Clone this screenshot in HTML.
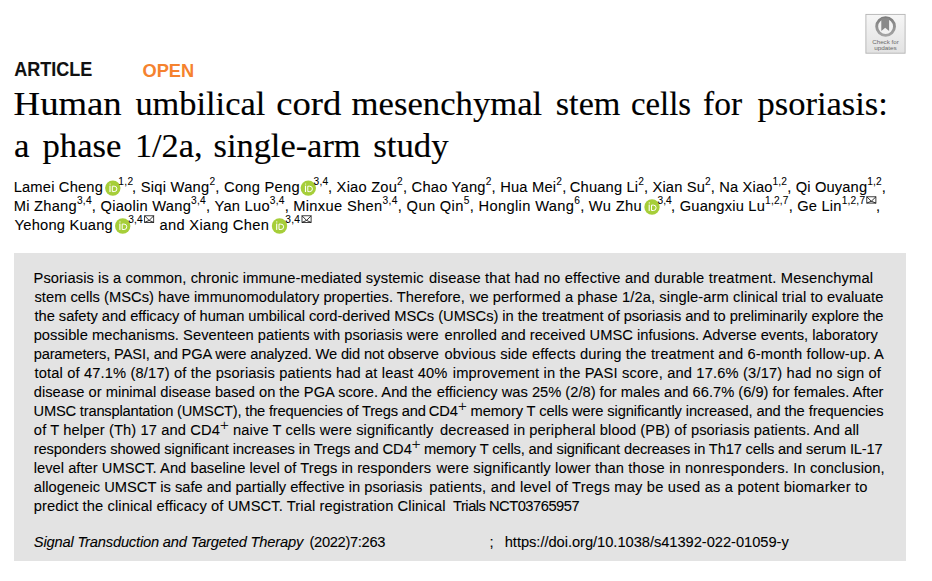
<!DOCTYPE html>
<html><head><meta charset="utf-8"><title>Human umbilical cord mesenchymal stem cells for psoriasis</title>
<style>
html,body{margin:0;padding:0;background:#fff;width:932px;height:581px;overflow:hidden}
svg{display:block}
</style></head><body>
<svg width="932" height="581" viewBox="0 0 932 581" font-family="Liberation Sans, sans-serif" fill="#000">
<rect x="14" y="253" width="892" height="308" fill="#e3e3e3"/>
<g>
<defs><linearGradient id="cg" x1="0" y1="0" x2="0" y2="1"><stop offset="0" stop-color="#f6f6f6"/><stop offset="1" stop-color="#e2e2e2"/></linearGradient><linearGradient id="rg" x1="0" y1="0" x2="0" y2="1"><stop offset="0" stop-color="#7e7e7e"/><stop offset="1" stop-color="#a4a4a4"/></linearGradient></defs>
<rect x="865.9" y="14.4" width="39.2" height="38.8" fill="url(#cg)" stroke="#b4b4b4" stroke-width="0.9"/>
<circle cx="885.6" cy="26.5" r="8.9" fill="#f2f2f2" stroke="url(#rg)" stroke-width="2.9"/>
<path d="M881.3 18.2h7.8v12.8l-3.9-3.3l-3.9 3.3z" fill="#8a8a8a"/>
<text x="872.2" y="44.0" font-size="6.2" textLength="26.6" lengthAdjust="spacingAndGlyphs" fill="#6a6a6a">Check for</text>
<text x="874.2" y="49.8" font-size="6.2" textLength="22.6" lengthAdjust="spacingAndGlyphs" fill="#6a6a6a">updates</text>
</g>
<g><circle cx="112.80" cy="188.10" r="7.70" fill="#a6ce39"/><rect x="109.45" y="185.70" width="1.1" height="6.3" fill="#fff"/><circle cx="110.08" cy="184.00" r="0.62" fill="#fff"/><path d="M112.30 186.20h1.9a2.7 2.7 0 0 1 0 5.4h-1.9z" fill="none" stroke="#fff" stroke-width="1.0"/></g>
<g><circle cx="308.30" cy="188.10" r="7.70" fill="#a6ce39"/><rect x="304.95" y="185.70" width="1.1" height="6.3" fill="#fff"/><circle cx="305.58" cy="184.00" r="0.62" fill="#fff"/><path d="M307.80 186.20h1.9a2.7 2.7 0 0 1 0 5.4h-1.9z" fill="none" stroke="#fff" stroke-width="1.0"/></g>
<g><circle cx="652.00" cy="207.00" r="7.70" fill="#a6ce39"/><rect x="648.65" y="204.60" width="1.1" height="6.3" fill="#fff"/><circle cx="649.28" cy="202.90" r="0.62" fill="#fff"/><path d="M651.50 205.10h1.9a2.7 2.7 0 0 1 0 5.4h-1.9z" fill="none" stroke="#fff" stroke-width="1.0"/></g>
<g fill="none" stroke="#111" stroke-width="0.8"><rect x="866.80" y="196.80" width="9.10" height="6.30"/><path d="M866.80 196.80L871.35 201.23L875.90 196.80M866.80 203.10L871.35 201.23L875.90 203.10" stroke-width="0.85"/></g>
<g><circle cx="122.70" cy="226.00" r="7.70" fill="#a6ce39"/><rect x="119.35" y="223.60" width="1.1" height="6.3" fill="#fff"/><circle cx="119.98" cy="221.90" r="0.62" fill="#fff"/><path d="M122.20 224.10h1.9a2.7 2.7 0 0 1 0 5.4h-1.9z" fill="none" stroke="#fff" stroke-width="1.0"/></g>
<g fill="none" stroke="#111" stroke-width="0.8"><rect x="144.60" y="215.80" width="9.10" height="6.60"/><path d="M144.60 215.80L149.15 220.43L153.70 215.80M144.60 222.40L149.15 220.43L153.70 222.40" stroke-width="0.85"/></g>
<g><circle cx="279.50" cy="226.00" r="7.70" fill="#a6ce39"/><rect x="276.15" y="223.60" width="1.1" height="6.3" fill="#fff"/><circle cx="276.78" cy="221.90" r="0.62" fill="#fff"/><path d="M279.00 224.10h1.9a2.7 2.7 0 0 1 0 5.4h-1.9z" fill="none" stroke="#fff" stroke-width="1.0"/></g>
<g fill="none" stroke="#111" stroke-width="0.8"><rect x="302.00" y="215.80" width="9.10" height="6.60"/><path d="M302.00 215.80L306.55 220.43L311.10 215.80M302.00 222.40L306.55 220.43L311.10 222.40" stroke-width="0.85"/></g>
<text x="14.30" y="75.90" font-size="19.8" textLength="78.04" lengthAdjust="spacingAndGlyphs" stroke="#111" stroke-width="0.1" font-weight="bold" fill="#111">ARTICLE</text>
<text x="142.44" y="77.30" font-size="19.0" textLength="51.76" lengthAdjust="spacingAndGlyphs" font-weight="bold" fill="#f5822e">OPEN</text>
<text x="13.62" y="115.30" font-size="33.6" textLength="108.13" lengthAdjust="spacingAndGlyphs" stroke="#000" stroke-width="0.15" font-family="Liberation Serif" fill="#000">Human</text>
<text x="135.41" y="115.30" font-size="33.6" textLength="129.78" lengthAdjust="spacingAndGlyphs" stroke="#000" stroke-width="0.15" font-family="Liberation Serif" fill="#000">umbilical</text>
<text x="276.32" y="115.30" font-size="33.6" textLength="64.95" lengthAdjust="spacingAndGlyphs" stroke="#000" stroke-width="0.15" font-family="Liberation Serif" fill="#000">cord</text>
<text x="351.64" y="115.30" font-size="33.6" textLength="190.64" lengthAdjust="spacingAndGlyphs" stroke="#000" stroke-width="0.15" font-family="Liberation Serif" fill="#000">mesenchymal</text>
<text x="555.82" y="115.30" font-size="33.6" textLength="64.61" lengthAdjust="spacingAndGlyphs" stroke="#000" stroke-width="0.15" font-family="Liberation Serif" fill="#000">stem</text>
<text x="630.94" y="115.30" font-size="33.6" textLength="60.11" lengthAdjust="spacingAndGlyphs" stroke="#000" stroke-width="0.15" font-family="Liberation Serif" fill="#000">cells</text>
<text x="703.07" y="115.30" font-size="33.6" textLength="39.01" lengthAdjust="spacingAndGlyphs" stroke="#000" stroke-width="0.15" font-family="Liberation Serif" fill="#000">for</text>
<text x="757.60" y="115.30" font-size="33.6" textLength="130.29" lengthAdjust="spacingAndGlyphs" stroke="#000" stroke-width="0.15" font-family="Liberation Serif" fill="#000">psoriasis:</text>
<text x="13.94" y="156.60" font-size="33.6" textLength="15.48" lengthAdjust="spacingAndGlyphs" stroke="#000" stroke-width="0.15" font-family="Liberation Serif" fill="#000">a</text>
<text x="42.50" y="156.60" font-size="33.6" textLength="78.92" lengthAdjust="spacingAndGlyphs" stroke="#000" stroke-width="0.15" font-family="Liberation Serif" fill="#000">phase</text>
<text x="134.92" y="156.60" font-size="33.6" textLength="67.67" lengthAdjust="spacingAndGlyphs" stroke="#000" stroke-width="0.15" font-family="Liberation Serif" fill="#000">1/2a,</text>
<text x="213.52" y="156.60" font-size="33.6" textLength="147.07" lengthAdjust="spacingAndGlyphs" stroke="#000" stroke-width="0.15" font-family="Liberation Serif" fill="#000">single-arm</text>
<text x="373.31" y="156.60" font-size="33.6" textLength="75.34" lengthAdjust="spacingAndGlyphs" stroke="#000" stroke-width="0.15" font-family="Liberation Serif" fill="#000">study</text>
<text x="13.65" y="191.80" font-size="14.7" textLength="89.24" lengthAdjust="spacing" stroke="#000" stroke-width="0.08">Lamei Cheng</text>
<text x="118.28" y="185.00" font-size="10.2" textLength="14.91" lengthAdjust="spacing" stroke="#000" stroke-width="0.08">1,2</text>
<text x="132.02" y="191.80" font-size="14.7" textLength="167.58" lengthAdjust="spacing" stroke="#000" stroke-width="0.08">, Siqi Wang<tspan font-size="10.2" dy="-6.8">2</tspan><tspan dy="6.8">, Cong Peng</tspan></text>
<text x="313.60" y="185.00" font-size="10.2" textLength="14.53" lengthAdjust="spacing" stroke="#000" stroke-width="0.08">3,4</text>
<text x="328.02" y="191.80" font-size="14.7" textLength="238.27" lengthAdjust="spacing" stroke="#000" stroke-width="0.08">, Xiao Zou<tspan font-size="10.2" dy="-6.8">2</tspan><tspan dy="6.8">, Chao Yang</tspan><tspan font-size="10.2" dy="-6.8">2</tspan><tspan dy="6.8">, Hua Mei</tspan><tspan font-size="10.2" dy="-6.8">2</tspan><tspan dy="6.8">,</tspan></text>
<text x="569.85" y="191.80" font-size="14.7" textLength="316.09" lengthAdjust="spacing" stroke="#000" stroke-width="0.08">Chuang Li<tspan font-size="10.2" dy="-6.8">2</tspan><tspan dy="6.8">, Xian Su</tspan><tspan font-size="10.2" dy="-6.8">2</tspan><tspan dy="6.8">, Na Xiao</tspan><tspan font-size="10.2" dy="-6.8">1,2</tspan><tspan dy="6.8">, Qi Ouyang</tspan><tspan font-size="10.2" dy="-6.8">1,2</tspan><tspan dy="6.8">,</tspan></text>
<text x="13.65" y="210.90" font-size="14.7" textLength="275.18" lengthAdjust="spacing" stroke="#000" stroke-width="0.08">Mi Zhang<tspan font-size="10.2" dy="-6.8">3,4</tspan><tspan dy="6.8">, Qiaolin Wang</tspan><tspan font-size="10.2" dy="-6.8">3,4</tspan><tspan dy="6.8">, Yan Luo</tspan><tspan font-size="10.2" dy="-6.8">3,4</tspan><tspan dy="6.8">,</tspan></text>
<text x="293.15" y="210.90" font-size="14.7" textLength="291.25" lengthAdjust="spacing" stroke="#000" stroke-width="0.08">Minxue Shen<tspan font-size="10.2" dy="-6.8">3,4</tspan><tspan dy="6.8">, Qun Qin</tspan><tspan font-size="10.2" dy="-6.8">5</tspan><tspan dy="6.8">, Honglin Wang</tspan><tspan font-size="10.2" dy="-6.8">6</tspan><tspan dy="6.8">,</tspan></text>
<text x="588.84" y="210.90" font-size="14.7" textLength="52.88" lengthAdjust="spacing" stroke="#000" stroke-width="0.08">Wu Zhu</text>
<text x="657.50" y="204.10" font-size="10.2" textLength="14.29" lengthAdjust="spacing" stroke="#000" stroke-width="0.08">3,4</text>
<text x="671.12" y="210.90" font-size="14.7" textLength="193.95" lengthAdjust="spacing" stroke="#000" stroke-width="0.08">, Guangxiu Lu<tspan font-size="10.2" dy="-6.8">1,2,7</tspan><tspan dy="6.8">, Ge Lin</tspan><tspan font-size="10.2" dy="-6.8">1,2,7</tspan><tspan dy="6.8"></tspan></text>
<text x="876.02" y="210.90" font-size="14.7" textLength="5.73" lengthAdjust="spacing" stroke="#000" stroke-width="0.08">,</text>
<text x="14.60" y="229.80" font-size="14.7" textLength="98.17" lengthAdjust="spacing" stroke="#000" stroke-width="0.08">Yehong Kuang</text>
<text x="128.30" y="223.00" font-size="10.2" textLength="14.29" lengthAdjust="spacing" stroke="#000" stroke-width="0.08">3,4</text>
<text x="159.55" y="229.80" font-size="14.7" textLength="109.27" lengthAdjust="spacing" stroke="#000" stroke-width="0.08">and Xiang Chen</text>
<text x="285.30" y="223.00" font-size="10.2" textLength="14.53" lengthAdjust="spacing" stroke="#000" stroke-width="0.08">3,4</text>
<text x="33.55" y="283.20" font-size="14.7" textLength="390.06" lengthAdjust="spacing" stroke="#000" stroke-width="0.08">Psoriasis is a common, chronic immune-mediated systemic</text>
<text x="428.97" y="283.20" font-size="14.7" textLength="444.17" lengthAdjust="spacing" stroke="#000" stroke-width="0.08">disease that had no effective and durable treatment. Mesenchymal</text>
<text x="34.50" y="302.17" font-size="14.7" textLength="430.31" lengthAdjust="spacing" stroke="#000" stroke-width="0.08">stem cells (MSCs) have immunomodulatory properties. Therefore,</text>
<text x="469.69" y="302.17" font-size="14.7" textLength="413.62" lengthAdjust="spacing" stroke="#000" stroke-width="0.08">we performed a phase 1/2a, single-arm clinical trial to evaluate</text>
<text x="34.54" y="321.14" font-size="14.7" textLength="399.50" lengthAdjust="spacing" stroke="#000" stroke-width="0.08">the safety and efficacy of human umbilical cord-derived MSCs</text>
<text x="438.27" y="321.14" font-size="14.7" textLength="445.27" lengthAdjust="spacing" stroke="#000" stroke-width="0.08">(UMSCs) in the treatment of psoriasis and to preliminarily explore the</text>
<text x="33.64" y="340.11" font-size="14.7" textLength="405.02" lengthAdjust="spacing" stroke="#000" stroke-width="0.08">possible mechanisms. Seventeen patients with psoriasis were</text>
<text x="444.47" y="340.11" font-size="14.7" textLength="433.38" lengthAdjust="spacing" stroke="#000" stroke-width="0.08">enrolled and received UMSC infusions. Adverse events, laboratory</text>
<text x="33.64" y="359.08" font-size="14.7" textLength="405.31" lengthAdjust="spacing" stroke="#000" stroke-width="0.08">parameters, PASI, and PGA were analyzed. We did not observe</text>
<text x="444.47" y="359.08" font-size="14.7" textLength="439.41" lengthAdjust="spacing" stroke="#000" stroke-width="0.08">obvious side effects during the treatment and 6-month follow-up. A</text>
<text x="34.54" y="378.05" font-size="14.7" textLength="412.85" lengthAdjust="spacing" stroke="#000" stroke-width="0.08">total of 47.1% (8/17) of the psoriasis patients had at least 40%</text>
<text x="452.73" y="378.05" font-size="14.7" textLength="428.21" lengthAdjust="spacing" stroke="#000" stroke-width="0.08">improvement in the PASI score, and 17.6% (3/17) had no sign of</text>
<text x="33.87" y="397.02" font-size="14.7" textLength="398.09" lengthAdjust="spacing" stroke="#000" stroke-width="0.08">disease or minimal disease based on the PGA score. And the</text>
<text x="436.77" y="397.02" font-size="14.7" textLength="446.72" lengthAdjust="spacing" stroke="#000" stroke-width="0.08">efficiency was 25% (2/8) for males and 66.7% (6/9) for females. After</text>
<text x="33.57" y="415.99" font-size="14.7" textLength="392.28" lengthAdjust="spacing" stroke="#000" stroke-width="0.08">UMSC transplantation (UMSCT), the frequencies of Tregs and</text>
<text x="428.85" y="415.99" font-size="14.7" textLength="454.63" lengthAdjust="spacing" stroke="#000" stroke-width="0.08">CD4<tspan font-size="15.5" dy="-4.5" font-family="Liberation Serif" stroke-width="0.1">+</tspan><tspan dy="4.5"> memory T cells were significantly increased, and the frequencies</tspan></text>
<text x="33.87" y="434.96" font-size="14.7" textLength="399.49" lengthAdjust="spacing" stroke="#000" stroke-width="0.08">of T helper (Th) 17 and CD4<tspan font-size="15.5" dy="-4.5" font-family="Liberation Serif" stroke-width="0.1">+</tspan><tspan dy="4.5"> naive T cells were significantly</tspan></text>
<text x="439.97" y="434.96" font-size="14.7" textLength="419.08" lengthAdjust="spacing" stroke="#000" stroke-width="0.08">decreased in peripheral blood (PB) of psoriasis patients. And all</text>
<text x="33.63" y="453.93" font-size="14.7" textLength="386.84" lengthAdjust="spacing" stroke="#000" stroke-width="0.08">responders showed significant increases in Tregs and CD4<tspan font-size="15.5" dy="-4.5" font-family="Liberation Serif" stroke-width="0.1">+</tspan><tspan dy="4.5"></tspan></text>
<text x="423.92" y="453.93" font-size="14.7" textLength="458.85" lengthAdjust="spacing" stroke="#000" stroke-width="0.08">memory T cells, and significant decreases in Th17 cells and serum IL-17</text>
<text x="33.63" y="472.90" font-size="14.7" textLength="397.36" lengthAdjust="spacing" stroke="#000" stroke-width="0.08">level after UMSCT. And baseline level of Tregs in responders</text>
<text x="436.59" y="472.90" font-size="14.7" textLength="448.12" lengthAdjust="spacing" stroke="#000" stroke-width="0.08">were significantly lower than those in nonresponders. In conclusion,</text>
<text x="33.85" y="491.87" font-size="14.7" textLength="388.44" lengthAdjust="spacing" stroke="#000" stroke-width="0.08">allogeneic UMSCT is safe and partially effective in psoriasis</text>
<text x="429.14" y="491.87" font-size="14.7" textLength="438.30" lengthAdjust="spacing" stroke="#000" stroke-width="0.08">patients, and level of Tregs may be used as a potent biomarker to</text>
<text x="33.64" y="510.84" font-size="14.7" textLength="411.95" lengthAdjust="spacing" stroke="#000" stroke-width="0.08">predict the clinical efficacy of UMSCT. Trial registration Clinical</text>
<text x="453.02" y="510.84" font-size="14.7" textLength="126.55" lengthAdjust="spacing" stroke="#000" stroke-width="0.08">Trials NCT03765957</text>
<text x="33.79" y="546.60" font-size="14.7" textLength="269.52" lengthAdjust="spacing" stroke="#000" stroke-width="0.08" font-style="italic">Signal Transduction and Targeted Therapy</text>
<text x="309.47" y="546.60" font-size="14.7" textLength="75.93" lengthAdjust="spacing" stroke="#000" stroke-width="0.08">(2022)7:263</text>
<text x="489.62" y="546.60" font-size="14.7" textLength="8.93" lengthAdjust="spacing" stroke="#000" stroke-width="0.08">;</text>
<text x="504.72" y="546.60" font-size="14.7" textLength="284.01" lengthAdjust="spacing" stroke="#000" stroke-width="0.08">https://doi.org/10.1038/s41392-022-01059-y</text>
</svg>
</body></html>
